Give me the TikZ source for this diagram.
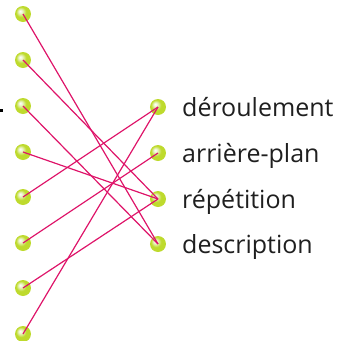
\documentclass[tikz,border=0pt]{standalone}
\usepackage{fontspec}
\setmainfont{Open Sans}
\definecolor{linecol}{RGB}{222,20,105}
\definecolor{ballcol}{RGB}{190,218,45}
\definecolor{balledge}{RGB}{165,195,30}
\definecolor{ballhi}{RGB}{235,245,200}
\pgfdeclareradialshading{greenball}{\pgfpoint{-9bp}{9bp}}{%
  color(0bp)=(white); color(6bp)=(ballhi); color(16bp)=(ballcol); color(30bp)=(ballcol); color(38bp)=(balledge); color(50bp)=(balledge)}
\tikzset{
  ballnode/.style={circle,minimum size=16pt,inner sep=0pt,shading=greenball},
  link/.style={draw=linecol,line width=1.2pt},
  word/.style={anchor=base west,inner sep=0pt,font=\fontsize{25}{28}\selectfont,text=black!88}
}
\begin{document}
\begin{tikzpicture}[x=1pt,y=-1pt]
\useasboundingbox (0,0) rectangle (360,341);
\fill[black] (0,108.5) rectangle (3,111.5);
\foreach \i/\y in {1/14,2/60,3/106,4/152,5/197,6/243,7/288,8/334}{
  \node[ballnode] (L\i) at (23,\y) {};
}
\foreach \i/\y in {1/107,2/153,3/199,4/244}{
  \node[ballnode] (R\i) at (158,\y) {};
}
\node[word] (t1) at (182,116.5) {déroulement};
\node[word] (t2) at (182,162.5) {arrière-plan};
\node[word] (t3) at (182,208.5) {répétition};
\node[word] (t4) at (182,253.5) {description};
\foreach \a/\b in {1/4,2/3,3/4,4/3,5/1,6/2,7/3,8/1}{
  \draw[link] (L\a.center) -- (R\b.center);
}
\end{tikzpicture}
\end{document}
